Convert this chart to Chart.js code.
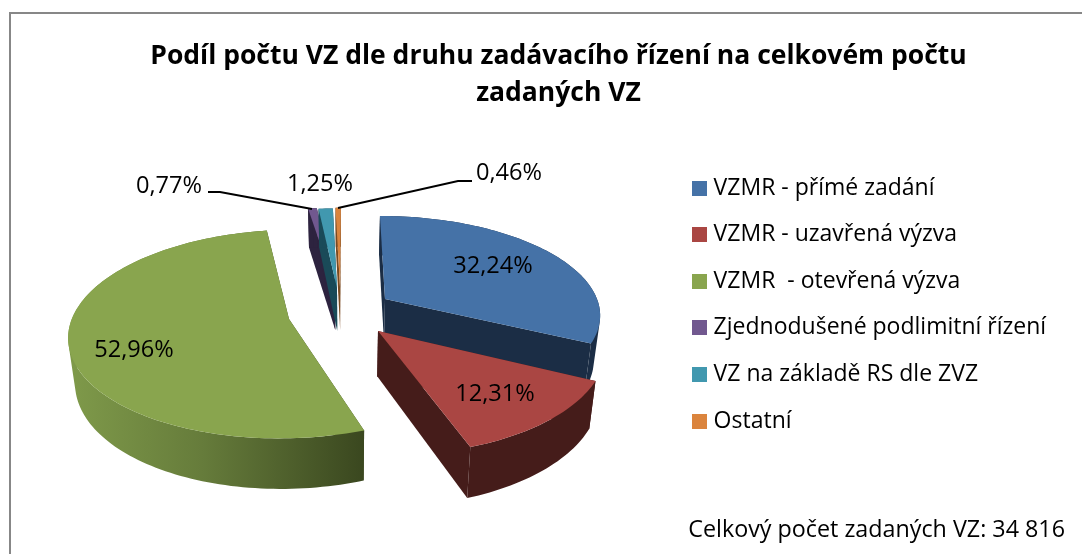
<!DOCTYPE html>
<html><head><meta charset="utf-8">
<style>html,body{margin:0;padding:0;background:#fff}#w{position:relative;width:1082px;height:554px;overflow:hidden}
#f{position:absolute;left:9px;top:12px;width:1080px;height:560px;border:2px solid #878787;box-sizing:border-box}
canvas{position:absolute;left:0;top:0}</style>
<script src="https://cdn.jsdelivr.net/npm/chart.js@4"></script></head>
<body><div id="w"><div id="f"></div><canvas id="c" width="1082" height="554"></canvas></div>
<script>
const titleLines = ["Podíl počtu VZ dle druhu zadávacího řízení na celkovém počtu", "zadaných VZ"];
const categories = ["VZMR - přímé zadání", "VZMR - uzavřená výzva", "VZMR  - otevřená výzva", "Zjednodušené podlimitní řízení", "VZ na základě RS dle ZVZ", "Ostatní"];
const values = [32.24, 12.31, 52.96, 0.77, 1.25, 0.46];
const note = "Celkový počet zadaných VZ: 34 816";
const topColors = ["#4572a7", "#aa4643", "#89a54e", "#71588f", "#4198af", "#db843d"];
const wallColors = ["#1b2d45", "#451c1a", "#3c4a20", "#2d233f", "#1a4a58", "#7a4a20"];
const apexes = [[385,299],[378,331],[289,319],[335,287],[337,288],[340,287]];
const radiusTrim = [1,0,3,0,0,0];
const labelPos = [[493,266],[495,394],[134,350],[169,186],[320,184],[509,173]];
const leaders = [null,null,null,[[208,192],[220,192],[312,209]],null,[[338,208],[458,181],[472,181]]];
const drawOrder = [0,3,4,5,2,1];
const FONT = "'Open Sans', Lato, sans-serif";

function project(i, th){
  const [ax,ay]=apexes[i], a=.144;
  const Rx=213+.36*(ay-299)-radiusTrim[i], Ry=95+.36*(ay-299), s=.148*(ax-346);
  const u=Math.sin(th), v=-Math.cos(th), p=1/(1-a*v);
  return [ax+(Rx*u+s*v)*p, ay+Ry*v*p];
}
const lower = P=>[346+(P[0]-346)*.975, 1.05*P[1]+28.6];
function addQuad(ctx,q){
  let area=0;
  for(let i=0;i<4;i++){const A=q[i],B=q[(i+1)%4];area+=A[0]*B[1]-B[0]*A[1];}
  const o=area<0?q.slice().reverse():q;
  ctx.moveTo(o[0][0],o[0][1]);ctx.lineTo(o[1][0],o[1][1]);ctx.lineTo(o[2][0],o[2][1]);ctx.lineTo(o[3][0],o[3][1]);ctx.closePath();
}
function poly(ctx,pts){ctx.beginPath();pts.forEach((P,k)=>k?ctx.lineTo(P[0],P[1]):ctx.moveTo(P[0],P[1]));ctx.closePath();ctx.fill();}

const solidPie = {
  id:'solidPie',
  afterLayout(chart){
    const l=chart.legend, h=l.bottom-l.top;
    l.left=672.5; l.right=1082; l.top=152.9; l.bottom=l.top+h;
    const t=chart.titleBlock; t.left=100; t.right=1017; t.top=38;
  },
  beforeDatasetsDraw(chart){
    const ctx=chart.ctx, arcs=chart.getDatasetMeta(0).data;
    for(const i of drawOrder){
      const el=arcs[i], apex=apexes[i];
      const a0=el.startAngle+Math.PI/2, a1=el.endAngle+Math.PI/2;
      const n=Math.max(2,Math.ceil((a1-a0)*40));
      const rim=[];
      for(let k=0;k<=n;k++) rim.push(project(i,a0+(a1-a0)*k/n));
      const first=rim[0], last=rim[n];
      let wall=wallColors[i];
      if(i===2){
        const g=ctx.createLinearGradient(68,0,365,0);
        g.addColorStop(0,"#7f9a4a");g.addColorStop(.45,"#667c3b");g.addColorStop(1,"#3a471f");
        wall=g;
      }
      ctx.fillStyle=wallColors[i];
      poly(ctx,[apex,first,lower(first),lower(apex)]);
      poly(ctx,[apex,last,lower(last),lower(apex)]);
      ctx.fillStyle=wall;
      ctx.beginPath();
      for(let k=0;k<n;k++) addQuad(ctx,[rim[k],rim[k+1],lower(rim[k+1]),lower(rim[k])]);
      ctx.fill('nonzero');
      ctx.fillStyle=el.options.backgroundColor;
      poly(ctx,[apex].concat(rim));
    }
    return false;
  },
  afterDraw(chart){
    const ctx=chart.ctx;
    ctx.save();
    ctx.strokeStyle="#000";ctx.lineWidth=1.8;
    leaders.forEach(L=>{if(!L)return;ctx.beginPath();L.forEach((P,k)=>k?ctx.lineTo(P[0],P[1]):ctx.moveTo(P[0],P[1]));ctx.stroke();});
    ctx.fillStyle="#000";ctx.font="23.6px "+FONT;ctx.textAlign="center";ctx.textBaseline="middle";
    values.forEach((v,i)=>ctx.fillText(v.toFixed(2).replace(".",",")+"%",labelPos[i][0],labelPos[i][1]));
    ctx.restore();
  }
};
function swatch(color){const c=document.createElement('canvas');c.width=15;c.height=15;const x=c.getContext('2d');x.fillStyle=color;x.fillRect(0,0,15,15);return c;}

new Chart(document.getElementById('c'),{
  type:'pie',
  data:{labels:categories,datasets:[{data:values,backgroundColor:topColors,borderWidth:0}]},
  options:{
    responsive:false,animation:false,
    layout:{padding:{right:17,bottom:10}},
    plugins:{
      title:{display:true,text:titleLines,color:"#000",font:{family:FONT,size:26.5,weight:'bold',lineHeight:1.4},padding:0},
      subtitle:{display:true,position:'bottom',align:'end',text:note,color:"#000",font:{family:FONT,size:23.3},padding:0},
      legend:{display:true,position:'right',align:'start',
        labels:{font:{family:FONT,size:23},color:"#000",usePointStyle:true,pointStyleWidth:6,boxHeight:15,padding:23.6,
          generateLabels(chart){return categories.map((t,i)=>({text:t,fillStyle:topColors[i],strokeStyle:topColors[i],lineWidth:0,pointStyle:swatch(topColors[i]),index:i,hidden:false,fontColor:"#000"}));}}},
      tooltip:{enabled:false}
    }
  },
  plugins:[solidPie]
});
</script></body></html>
